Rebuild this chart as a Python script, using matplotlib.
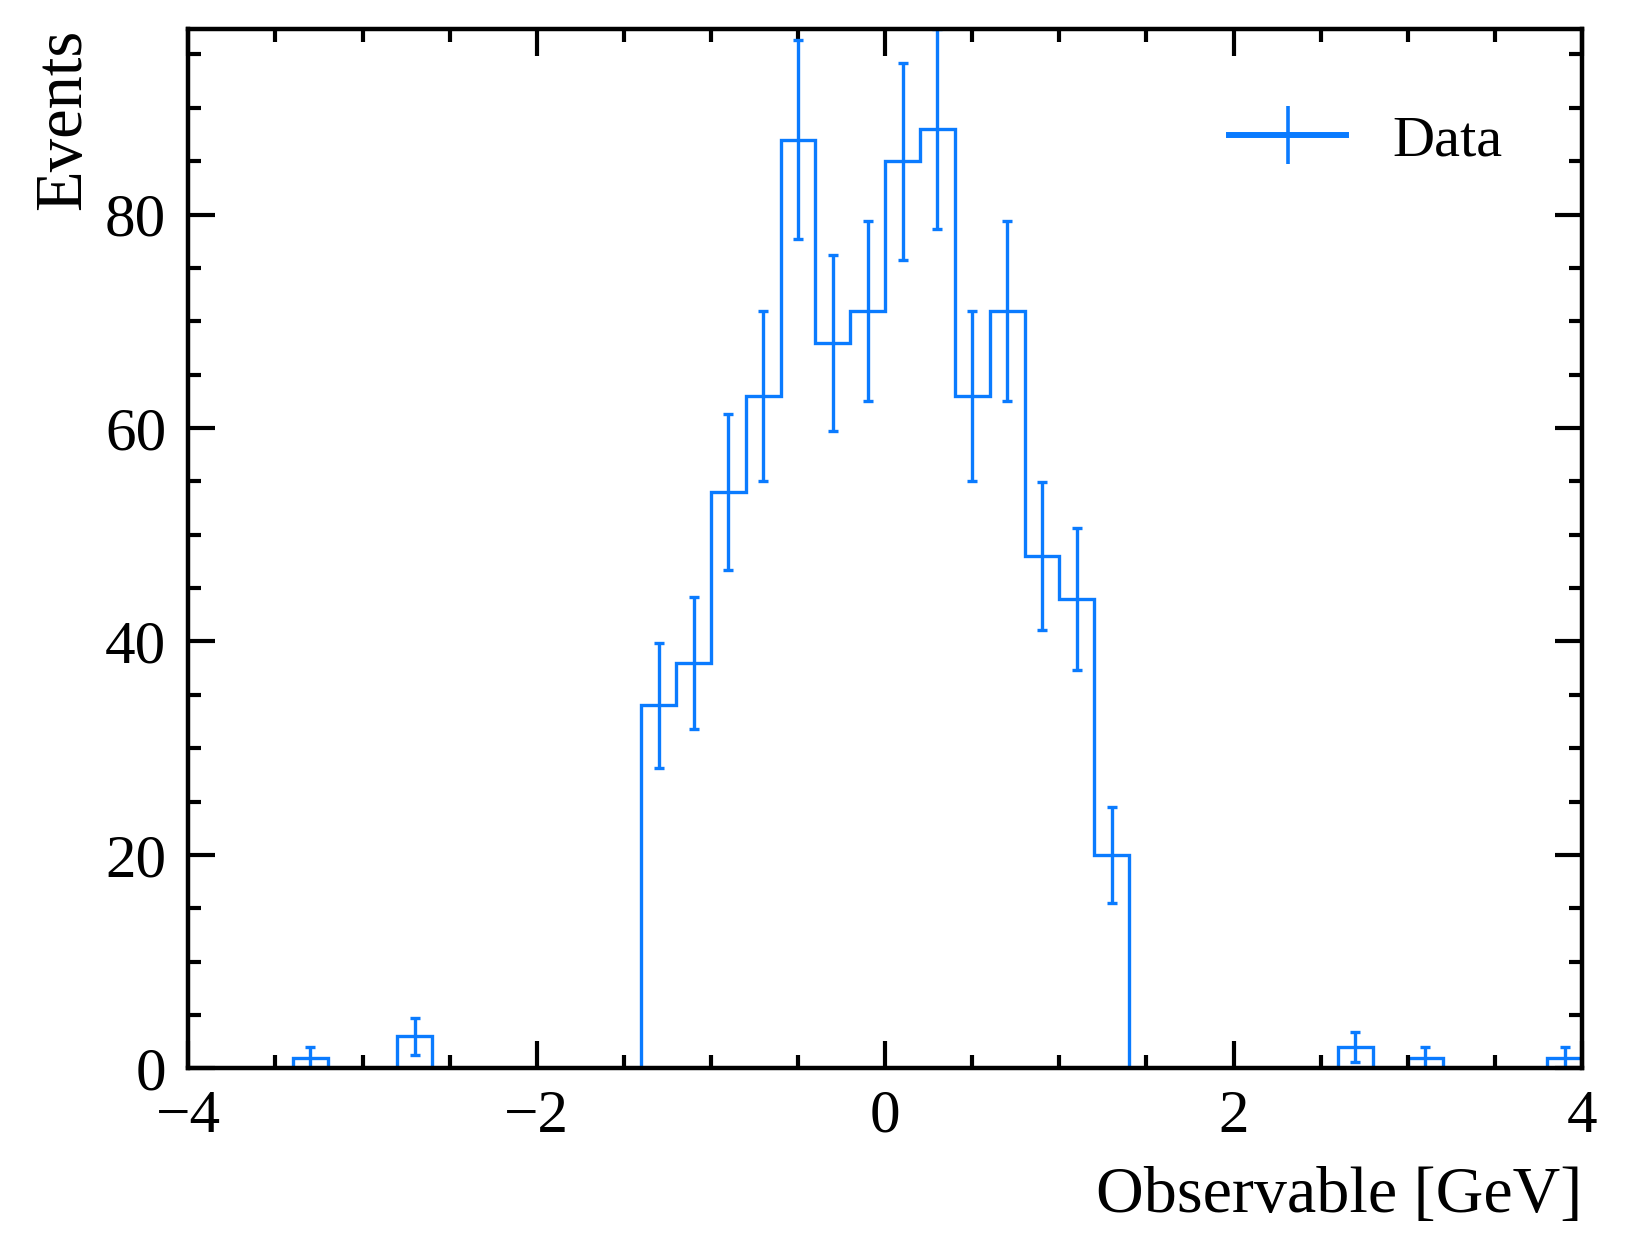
import numpy as np
import matplotlib
matplotlib.use("Agg")
import matplotlib.pyplot as plt
from matplotlib.ticker import MultipleLocator

# bin edges of the observable and event counts per bin (width 0.2 GeV)
bin_edges = np.linspace(-4.0, 4.0, 41)
counts = np.array([
    0, 0, 0, 1, 0, 0, 3, 0, 0, 0,      # -4.0 .. -2.0
    0, 0, 0, 34, 38, 54, 63, 87, 68, 71,  # -2.0 .. 0.0
    85, 88, 63, 71, 48, 44, 20, 0, 0, 0,  # 0.0 .. 2.0
    0, 0, 0, 2, 0, 1, 0, 0, 0, 1,      # 2.0 .. 4.0
])
x_label = "Observable [GeV]"
y_label = "Events"
legend_label = "Data"

color = "#0a7bff"

plt.rcParams["font.family"] = ["Liberation Serif", "DejaVu Serif"]
plt.rcParams["mathtext.fontset"] = "stix"

fig = plt.figure(figsize=(16.28, 12.57), dpi=100)
ax = fig.add_axes([0.1157, 0.1501, 0.9717 - 0.1157, 0.9769 - 0.1501])

errors = np.sqrt(counts)
centers = 0.5 * (bin_edges[1:] + bin_edges[:-1])
nz = counts > 0

ax.stairs(counts, bin_edges, color=color, lw=2.4, baseline=0)
ax.errorbar(centers[nz], counts[nz], yerr=errors[nz], fmt="none",
            ecolor=color, elinewidth=2.4, capsize=3.6, capthick=2.4)

# legend proxy: horizontal line with a vertical error bar
proxy = ax.errorbar([np.nan], [np.nan], yerr=[1], color=color, lw=4.3,
                    elinewidth=2.6, capsize=0)
ax.legend([proxy], [legend_label], loc="upper right", frameon=False,
          fontsize=42, handlelength=2.0, borderaxespad=0,
          bbox_to_anchor=(0.96, 0.94))

ax.set_xlim(bin_edges[0], bin_edges[-1])
ax.set_ylim(0, np.max(counts + errors))

ax.xaxis.set_major_locator(MultipleLocator(2))
ax.xaxis.set_minor_locator(MultipleLocator(0.5))
ax.yaxis.set_major_locator(MultipleLocator(20))
ax.yaxis.set_minor_locator(MultipleLocator(5))

ax.tick_params(which="both", direction="in", top=True, right=True,
               labelsize=44, width=3)
ax.tick_params(which="major", length=19.5)
ax.tick_params(which="minor", length=9.5)
ax.tick_params(axis="x", which="major", pad=15)
ax.tick_params(axis="y", which="major", pad=16)
for sp in ax.spines.values():
    sp.set_linewidth(3.2)

ax.set_xlabel(x_label, fontsize=47.5, loc="right", labelpad=16)
ax.set_ylabel(y_label, fontsize=48, loc="top", labelpad=8)

fig.savefig("out.png", dpi=100)
